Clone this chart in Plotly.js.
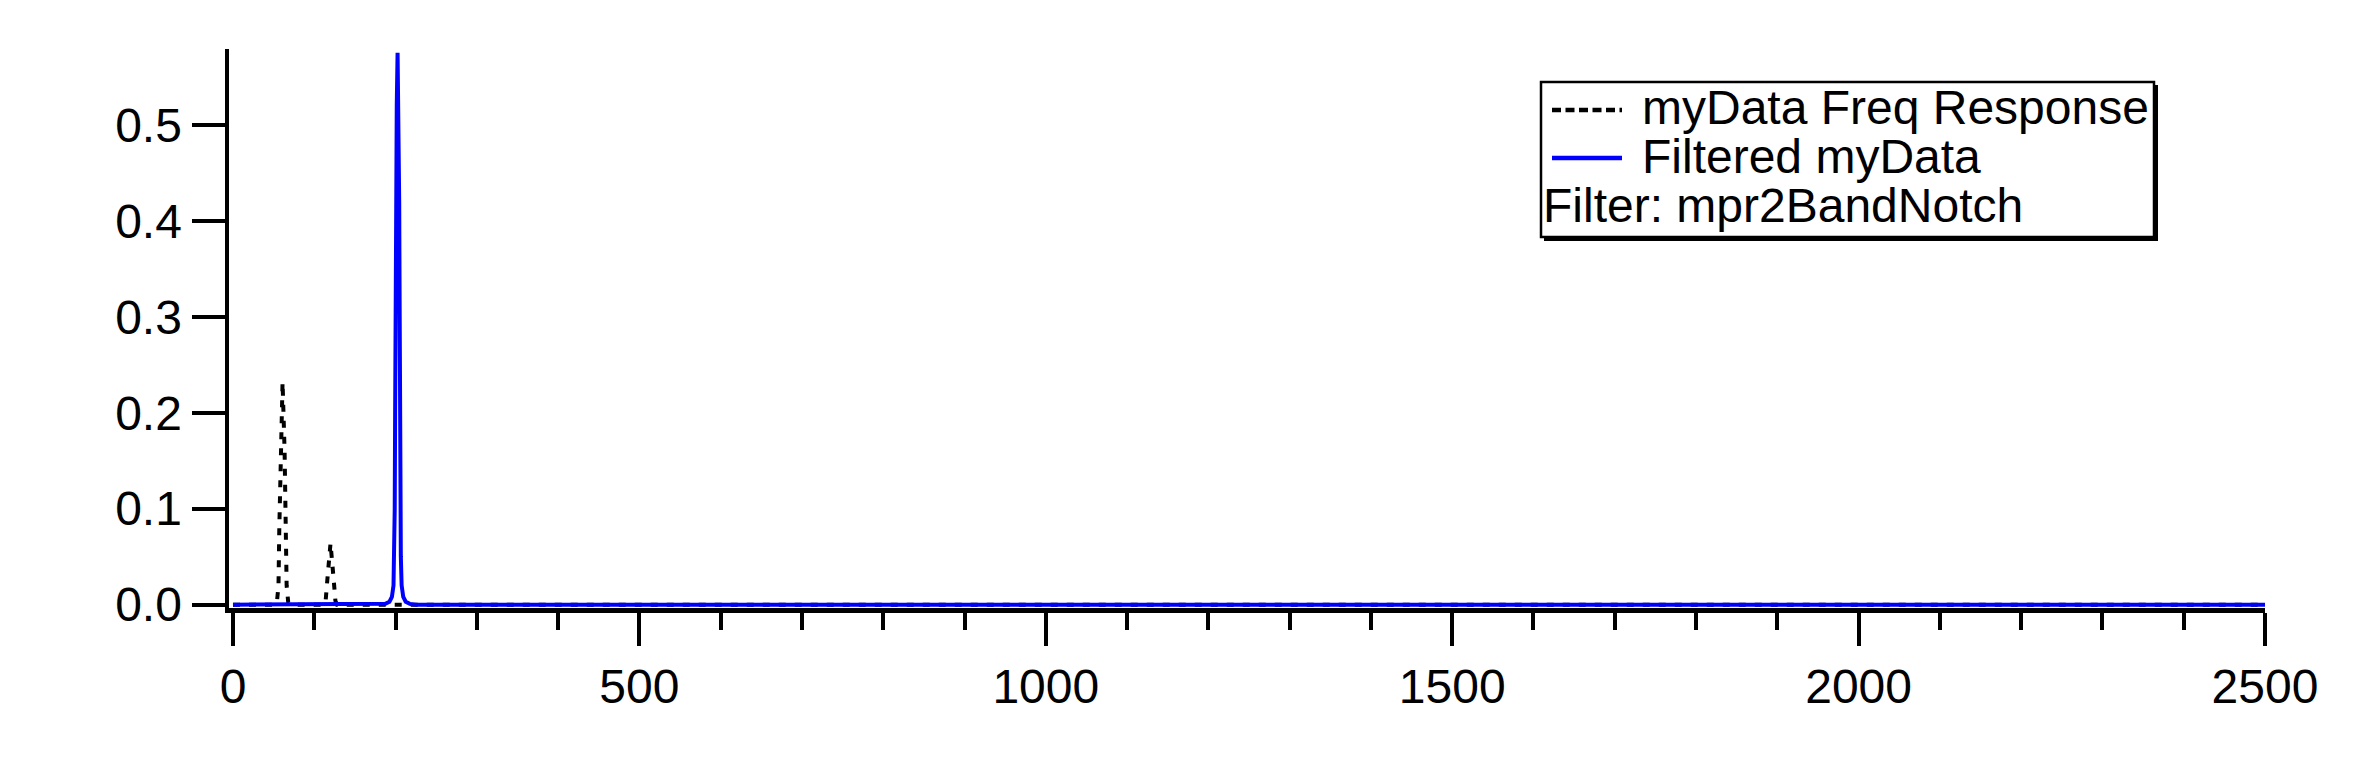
<!DOCTYPE html>
<html>
<head>
<meta charset="utf-8">
<script src="https://cdn.plot.ly/plotly-3.0.1.min.js"></script>
<style>
  html, body { margin: 0; padding: 0; background: #ffffff; }
  #chart { width: 2376px; height: 772px; }
</style>
</head>
<body>
<div id="chart"></div>
<script>
// ---- Data ----
// myData Freq Response (dashed black)
const respFreq = [0, 50, 54, 56, 57, 58.5, 61, 63.5, 65, 66, 68, 72, 112, 114, 116, 120, 124, 126, 128, 2500];
const respAmp  = [0, 0, 0.002, 0.02, 0.08, 0.16, 0.232, 0.16, 0.08, 0.02, 0.002, 0, 0, 0.004, 0.025, 0.064, 0.025, 0.004, 0, 0];

// Filtered myData (solid blue)
const filtFreq = [0, 180, 187.5, 192.5, 195.5, 197.5, 198.5, 199, 199.5, 200, 200.5, 201.5, 202.5, 203.5, 204.5, 205, 205.5, 206, 206.5, 207.5, 209.5, 212.5, 217.5, 225, 2500];
const filtAmp  = [0, 0, 0.0008, 0.003, 0.008, 0.02, 0.05, 0.1, 0.2, 0.32, 0.42, 0.52, 0.575, 0.52, 0.42, 0.32, 0.2, 0.1, 0.05, 0.02, 0.008, 0.003, 0.0008, 0, 0];

const seriesNames = ["myData Freq Response", "Filtered myData"];
const filterLabel = "Filter: mpr2BandNotch";

// ---- Layout geometry (pixels) ----
const W = 2376, H = 772;
const M = { l: 229, r: 111, t: 49, b: 164 };
const plotW = W - M.l - M.r, plotH = H - M.t - M.b;
const px = x => (x - M.l) / plotW;
const py = y => 1 - (y - M.t) / plotH;

const FONT = "Liberation Sans, Arial, Helvetica, sans-serif";

const traces = [
  { x: respFreq, y: respAmp, type: "scatter", mode: "lines", name: seriesNames[0],
    line: { color: "#000000", width: 4, dash: "7px,9px" }, hoverinfo: "skip" },
  { x: filtFreq, y: filtAmp, type: "scatter", mode: "lines", name: seriesNames[1],
    line: { color: "#0000ff", width: 4 }, hoverinfo: "skip" }
];

const axisCommon = {
  showline: true, linewidth: 4.5, linecolor: "#000000",
  ticks: "outside", ticklen: 33, tickwidth: 4, tickcolor: "#000000",
  showgrid: false, zeroline: false,
  tickfont: { family: FONT, size: 48, color: "#000000" }
};

const layout = {
  width: W, height: H,
  margin: { l: M.l, r: M.r, t: M.t, b: M.b, pad: 0 },
  paper_bgcolor: "#ffffff", plot_bgcolor: "#ffffff",
  showlegend: false,
  xaxis: Object.assign({}, axisCommon, {
    range: [-4.9, 2500], tick0: 0, dtick: 500,
    minor: { dtick: 100, tick0: 0, ticks: "outside", ticklen: 17, tickwidth: 4, tickcolor: "#000000", showgrid: false }
  }),
  yaxis: Object.assign({}, axisCommon, {
    range: [-0.0035, 0.579], tick0: 0, dtick: 0.1, tickformat: ".1f"
  }),
  shapes: [
    // legend shadow
    { type: "rect", xref: "paper", yref: "paper", x0: px(1544), x1: px(2158), y0: py(85), y1: py(241),
      fillcolor: "#000000", line: { width: 0 }, layer: "above" },
    // legend box
    { type: "rect", xref: "paper", yref: "paper", x0: px(1541), x1: px(2154), y0: py(82), y1: py(237),
      fillcolor: "#ffffff", line: { color: "#000000", width: 2.5 }, layer: "above" },
    // legend samples
    { type: "line", xref: "paper", yref: "paper", x0: px(1552), x1: px(1622), y0: py(110), y1: py(110),
      line: { color: "#000000", width: 4.5, dash: "9px,4.5px" }, layer: "above" },
    { type: "line", xref: "paper", yref: "paper", x0: px(1552), x1: px(1622), y0: py(158), y1: py(158),
      line: { color: "#0000ff", width: 4.5 }, layer: "above" }
  ],
  annotations: [
    { xref: "paper", yref: "paper", x: px(1640), y: py(107), xanchor: "left", yanchor: "middle",
      text: seriesNames[0], showarrow: false, font: { family: FONT, size: 48, color: "#000000" } },
    { xref: "paper", yref: "paper", x: px(1640), y: py(156), xanchor: "left", yanchor: "middle",
      text: seriesNames[1], showarrow: false, font: { family: FONT, size: 48, color: "#000000" } },
    { xref: "paper", yref: "paper", x: px(1541), y: py(205), xanchor: "left", yanchor: "middle",
      text: filterLabel, showarrow: false, font: { family: FONT, size: 48, color: "#000000" } }
  ]
};

Plotly.newPlot("chart", traces, layout, { displayModeBar: false, staticPlot: true });
</script>
</body>
</html>
